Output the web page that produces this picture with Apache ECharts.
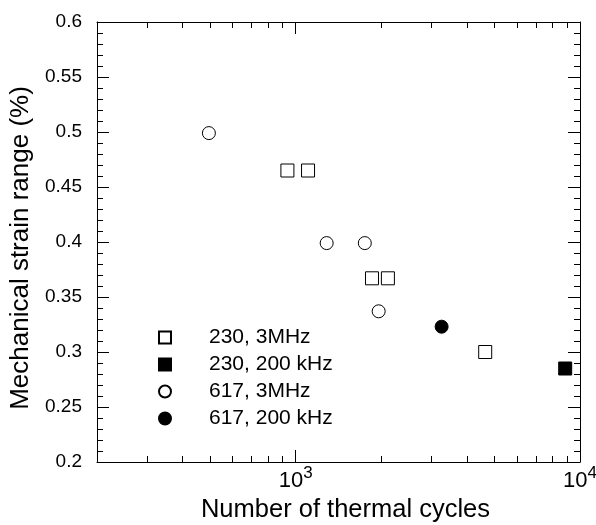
<!DOCTYPE html>
<html>
<head>
<meta charset="utf-8">
<script src="https://cdn.jsdelivr.net/npm/echarts@6/dist/echarts.min.js"></script>
<style>
html,body{margin:0;padding:0;background:#fff;}
#chart{width:596px;height:525px;}
</style>
</head>
<body>
<div id="chart"></div>
<script>
// series: [cycles, strain %]
const s230_3MHz=[[935,0.465],[1105,0.465],[1855,0.367],[2110,0.367],[4640,0.300]];
const s230_200k=[[8870,0.285]];
const s617_3MHz=[[495,0.499],[1285,0.399],[1750,0.399],[1958,0.337]];
const s617_200k=[[3260,0.323]];

const seriesNames=["230, 3MHz","230, 200 kHz","617, 3MHz","617, 200 kHz"];

const xMajor=[1000,10000];
const xMinor=[200,300,400,500,600,700,800,900,2000,3000,4000,5000,6000,7000,8000,9000];

const FONT="'Liberation Sans', Arial, sans-serif";
const INK="#000";

const chart=echarts.init(document.getElementById("chart"));

function xAxisDef(pos,values,len,withLine,withLabel){
    return {
        type:"log",
        logBase:10,
        min:200,
        max:10000,
        position:pos,
        axisLine:{show:withLine,lineStyle:{color:INK,width:1}},
        axisTick:{show:true,inside:true,length:len,customValues:values,lineStyle:{color:INK,width:1}},
        axisLabel:withLabel?{
            show:true,
            customValues:xMajor,
            margin:3,
            formatter(v){
                return "{b|10}{s|"+Math.round(Math.log10(v))+"}";
            },
            rich:{
                b:{fontSize:22,fontFamily:FONT,color:INK},
                s:{fontSize:17,fontFamily:FONT,color:INK,padding:[0,0,14,0]}
            }
        }:{show:false},
        splitLine:{show:false},
        minorTick:{show:false}
    };
}

function yAxisDef(pos,withLabel){
    return {
        type:"value",
        min:0.2,
        max:0.6,
        interval:0.05,
        position:pos,
        axisLine:{show:true,lineStyle:{color:INK,width:1}},
        axisTick:{show:true,inside:true,length:12,lineStyle:{color:INK,width:1}},
        minorTick:{show:true,splitNumber:5,length:6,lineStyle:{color:INK,width:1}},
        axisLabel:withLabel?{
            show:true,
            fontSize:19,
            fontFamily:FONT,
            color:INK,
            margin:15
        }:{show:false},
        splitLine:{show:false}
    };
}

const xAxes=[
    xAxisDef("bottom",xMajor,12,true,true),
    xAxisDef("bottom",xMinor,6,false,false),
    xAxisDef("top",xMajor,12,true,false),
    xAxisDef("top",xMinor,6,false,false)
];
xAxes[0].name="Number of thermal cycles";
xAxes[0].nameLocation="middle";
xAxes[0].nameGap=35;
xAxes[0].nameTextStyle={fontSize:25.5,fontFamily:FONT,color:INK,padding:[0,0,0,14]};

const yAxes=[yAxisDef("left",true),yAxisDef("right",false)];
yAxes[0].name="Mechanical strain range (%)";
yAxes[0].nameLocation="middle";
yAxes[0].nameGap=60;
yAxes[0].nameTextStyle={fontSize:26,fontFamily:FONT,color:INK,padding:[0,12,0,0]};

function scatter(name,data,symbol,filled){
    return {
        name,
        type:"scatter",
        xAxisIndex:0,
        yAxisIndex:0,
        data,
        symbol,
        symbolSize:13,
        itemStyle:{
            color:filled?INK:"#fff",
            borderColor:INK,
            borderWidth:1,
            opacity:1
        },
        emphasis:{disabled:true}
    };
}

chart.setOption({
    backgroundColor:"#ffffff",
    animation:false,
    grid:{left:97,top:22,right:16,bottom:63,containLabel:false,outerBoundsMode:"none"},
    legend:{
        orient:"vertical",
        left:153,
        top:322,
        itemWidth:12,
        itemHeight:12,
        itemGap:6,
        textStyle:{fontSize:21,fontFamily:FONT,color:INK,padding:[0,0,0,33]},
        data:seriesNames
    },
    xAxis:xAxes,
    yAxis:yAxes,
    series:[
        scatter(seriesNames[0],s230_3MHz,"rect",false),
        scatter(seriesNames[1],s230_200k,"rect",true),
        scatter(seriesNames[2],s617_3MHz,"circle",false),
        scatter(seriesNames[3],s617_200k,"circle",true)
    ]
});
</script>
</body>
</html>
